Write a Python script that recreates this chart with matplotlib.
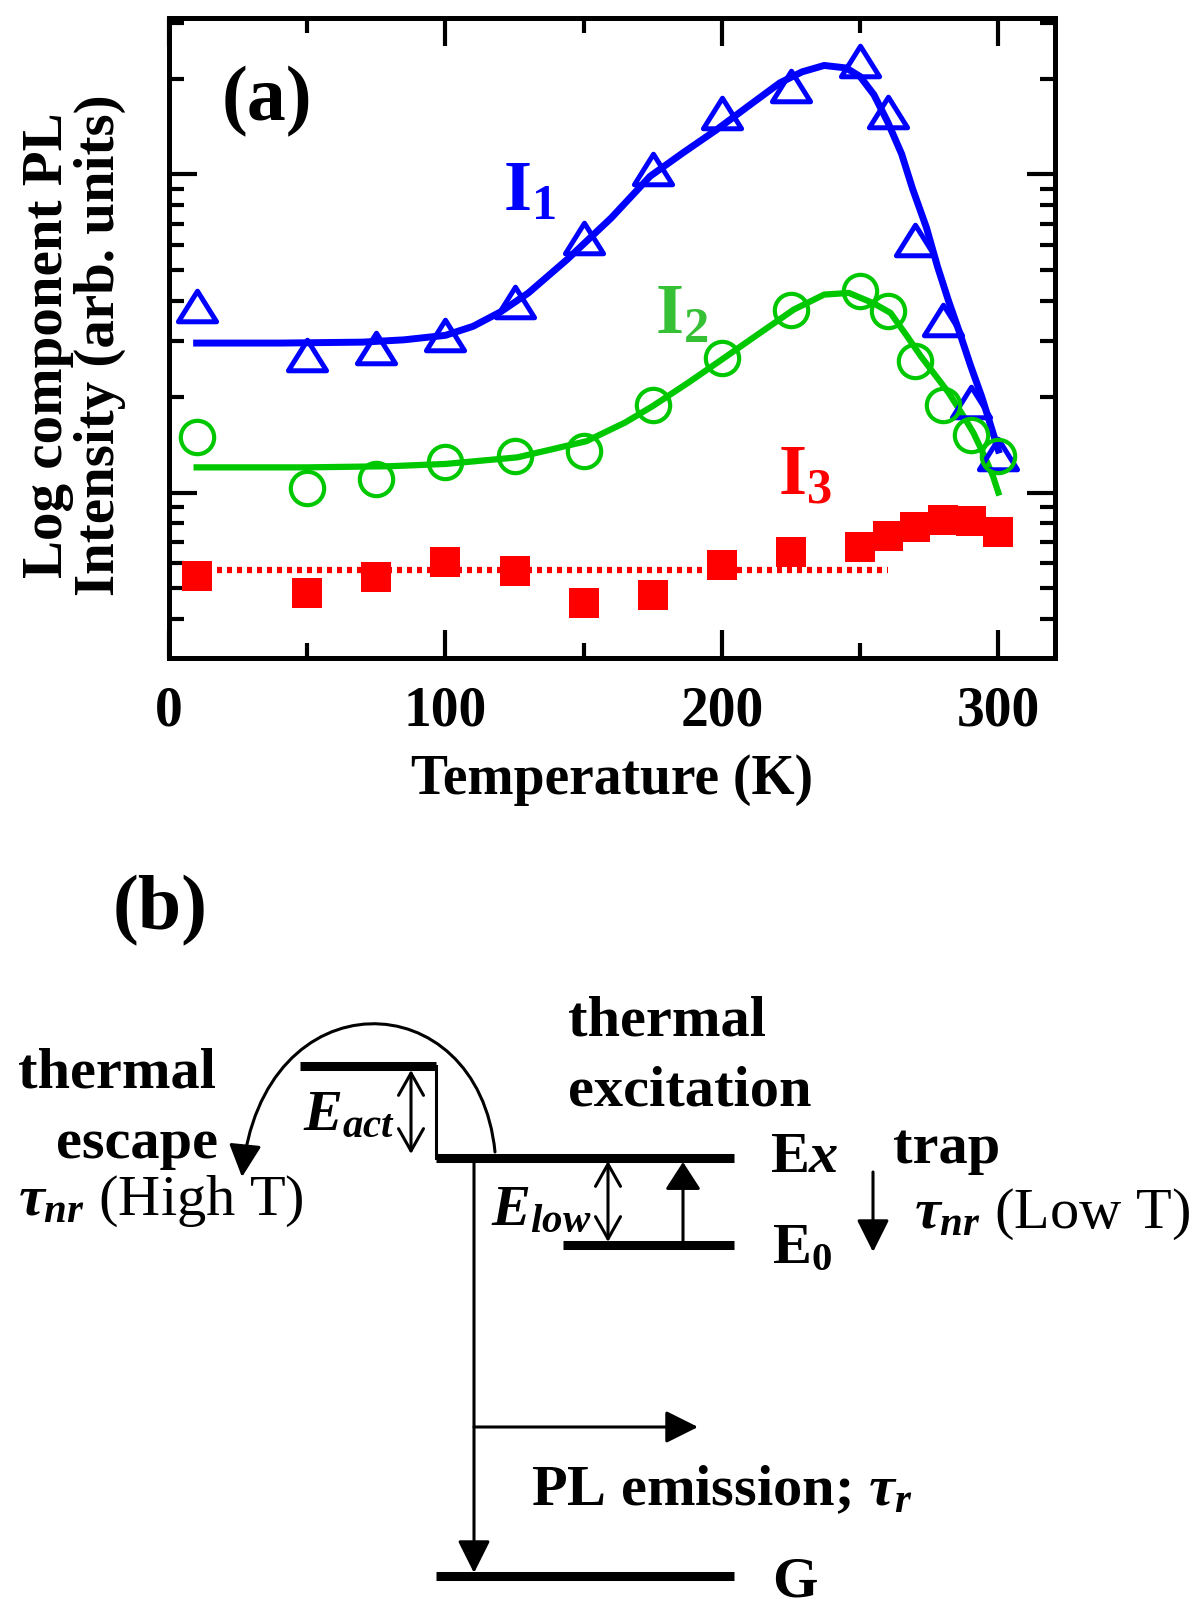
import numpy as np
import matplotlib
matplotlib.use('Agg')
import matplotlib.pyplot as plt
from matplotlib.patches import FancyArrowPatch
from matplotlib.path import Path
from matplotlib.ticker import LogLocator, NullFormatter, FixedLocator

# ---------------- data (panel a) ----------------
temp_pts = [10, 50, 75, 100, 125, 150, 175, 200, 225, 250, 260, 270, 280, 290, 300]
i1_pts = [3.87, 2.71, 2.85, 3.13, 3.98, 6.31, 10.4, 15.6, 18.9, 22.8, 15.7, 6.21, 3.48, 1.93, 1.32]
i2_pts = [1.50, 1.03, 1.10, 1.25, 1.30, 1.35, 1.88, 2.65, 3.76, 4.29, 3.71, 2.59, 1.89, 1.52, 1.30]
i3_pts = [0.548, 0.485, 0.543, 0.603, 0.565, 0.451, 0.478, 0.590, 0.650, 0.675, 0.732, 0.782, 0.818, 0.812, 0.754]

i1_fit_t = [10, 40, 70, 85, 100, 110, 120, 130, 144, 160, 174, 186, 198, 210, 221, 229, 237, 245,
            250, 255, 260, 265, 269, 274, 278, 282, 286, 290, 294, 297, 300]
i1_fit = [2.95, 2.95, 2.97, 3.02, 3.12, 3.33, 3.70, 4.24, 5.40, 7.3, 9.86, 11.7, 13.8, 16.5, 19.4, 21.0,
          22.0, 21.6, 20.3, 17.8, 14.6, 11.6, 9.0, 6.8, 5.13, 4.0, 3.18, 2.5, 2.00, 1.65, 1.36]

i2_fit_t = [10, 50, 80, 100, 126, 151, 165, 175, 188, 200, 213, 226, 237, 246, 255, 261, 267, 272,
            277, 282, 287, 291, 295, 298, 300]
i2_fit = [1.20, 1.20, 1.21, 1.23, 1.29, 1.45, 1.66, 1.87, 2.22, 2.62, 3.14, 3.76, 4.19, 4.24, 3.93,
          3.67, 3.1, 2.68, 2.35, 2.06, 1.76, 1.54, 1.30, 1.13, 1.0]

i3_fit_t = [10, 260]
i3_fit = [0.569, 0.569]

x_ticks = [0, 100, 200, 300]
x_minor = [50, 150, 250]

BLUE = '#0000FF'
GREEN = '#00C800'
GREEN_TXT = '#35C035'
RED = '#FF0000'

plt.rcParams['font.family'] = ['Liberation Serif', 'DejaVu Serif']
plt.rcParams['font.weight'] = 'bold'
plt.rcParams['mathtext.fontset'] = 'custom'
plt.rcParams['mathtext.rm'] = 'Liberation Serif:bold'
plt.rcParams['mathtext.it'] = 'Liberation Serif:italic:bold'
plt.rcParams['mathtext.bf'] = 'Liberation Serif:bold'

W, H = 1200, 1610
fig = plt.figure(figsize=(12, 16.1), dpi=100)


def fx(x):
    return x / W


def fy(y):
    return 1 - y / H


# ---------------- panel (b) drawing axes (pixel coordinates) ----------------
ax2 = fig.add_axes([0, 0, 1, 1])
ax2.set_xlim(0, W)
ax2.set_ylim(H, 0)
ax2.axis('off')

# ---------------- panel (a) ----------------
ax = fig.add_axes([fx(169), fy(658), (1055 - 169) / W, (658 - 18.5) / H])
ax.set_yscale('log')
ax.set_xlim(0, 320.5)
ax.set_ylim(0.302, 30.9)

ax.plot(i1_fit_t, i1_fit, color=BLUE, lw=5, zorder=2)
ax.plot(i2_fit_t, i2_fit, color=GREEN, lw=4.5, zorder=2)
ax.plot(i3_fit_t, i3_fit, color=RED, lw=4.5, ls=(0, (0.8, 0.8)), zorder=2)

tri = Path([(0, 0.8), (-1, -0.8), (1, -0.8), (0, 0.8)],
           [Path.MOVETO, Path.LINETO, Path.LINETO, Path.CLOSEPOLY])
ax.plot(temp_pts, i1_pts, ls='none', marker=tri, ms=27.5, mfc='none', mec=BLUE, mew=3.6, zorder=3)
ax.plot(temp_pts, i2_pts, ls='none', marker='o', ms=24, mfc='none', mec=GREEN, mew=3, zorder=3)
ax.plot(temp_pts, i3_pts, ls='none', marker='s', ms=21, mfc=RED, mec=RED, mew=0, zorder=3)

ax.set_xticks(x_ticks)
ax.set_xticks(x_minor, minor=True)
ax.set_xticklabels([str(v) for v in x_ticks])
ax.yaxis.set_major_locator(FixedLocator([1, 10]))
ax.yaxis.set_minor_locator(LogLocator(base=10, subs=np.arange(2, 10), numticks=20))
ax.yaxis.set_major_formatter(NullFormatter())
ax.yaxis.set_minor_formatter(NullFormatter())
ax.tick_params(which='both', direction='in', top=True, right=True, width=3, color='k')
ax.tick_params(which='major', length=20, labelsize=40, pad=20)
ax.tick_params(which='minor', length=11)
for sp in ax.spines.values():
    sp.set_linewidth(3.6)

ax.set_xlabel('Temperature (K)', fontsize=40, fontweight='bold')
ax.xaxis.set_label_coords(0.5, -0.150)

fig.text(fx(74), fy(345), 'Log component PL\nIntensity (arb. units)', rotation=90,
         ha='center', va='center', multialignment='center', fontsize=41, linespacing=1.0)

fig.text(fx(222), fy(120), '(a)', fontsize=56, ha='left', va='baseline')
fig.text(fx(503), fy(210), r'I$_1$', fontsize=52, color=BLUE, ha='left', va='baseline')
fig.text(fx(655), fy(333), r'I$_2$', fontsize=52, color=GREEN_TXT, ha='left', va='baseline')
fig.text(fx(778), fy(495), r'I$_3$', fontsize=52, color=RED, ha='left', va='baseline')

# ---------------- panel (b) ----------------
LVL = 6.5
THIN = 2.2


def level(x0, x1, y):
    ax2.plot([x0, x1], [y, y], color='k', lw=LVL, solid_capstyle='butt')


level(300, 436, 1066)   # barrier level
level(436, 734, 1158)   # Ex
level(563, 734, 1245)   # E0
level(436, 734, 1576)   # G
ax2.plot([436, 436], [1066, 1158], color='k', lw=THIN)


def arrow(p0, p1, style, **kw):
    a = FancyArrowPatch(p0, p1, arrowstyle=style, mutation_scale=20, lw=THIN,
                        color='k', shrinkA=0, shrinkB=0, **kw)
    ax2.add_patch(a)


solid_head = '-|>,head_length=1.0,head_width=0.5'
open_dbl = '<->,head_length=0.8,head_width=0.45'

arrow((411, 1070), (411, 1154), open_dbl)            # E_act
arrow((608, 1161), (608, 1242), open_dbl)            # E_low
arrow((683, 1242), (683, 1162), '-|>,head_length=0.85,head_width=0.55')  # thermal excitation
arrow((873, 1172), (873, 1252), solid_head)          # trap
arrow((474, 1158), (474, 1573), solid_head)          # PL emission vertical
arrow((474, 1427), (698, 1427), solid_head)          # PL emission horizontal

curve = Path([(495, 1152), (478, 980), (262, 975), (242, 1177)],
             [Path.MOVETO, Path.CURVE4, Path.CURVE4, Path.CURVE4])
ax2.add_patch(FancyArrowPatch(path=curve, arrowstyle=solid_head, mutation_scale=20,
                              lw=THIN, color='k', shrinkA=0, shrinkB=0))

FS = 42
fig.text(fx(113), fy(929), '(b)', fontsize=56, ha='left', va='baseline')
fig.text(fx(216), fy(1087), 'thermal', fontsize=FS, ha='right', va='baseline')
fig.text(fx(218), fy(1158), 'escape', fontsize=FS, ha='right', va='baseline')
fig.text(fx(18), fy(1215), r'$\tau_{nr}$ (High T)', fontsize=FS, fontweight='normal',
         ha='left', va='baseline')
fig.text(fx(303), fy(1130), r'$E_{act}$', fontsize=FS, ha='left', va='baseline')
fig.text(fx(491), fy(1225), r'$E_{low}$', fontsize=FS, ha='left', va='baseline')
fig.text(fx(568), fy(1035), 'thermal', fontsize=FS, ha='left', va='baseline')
fig.text(fx(568), fy(1105), 'excitation', fontsize=FS, ha='left', va='baseline')
fig.text(fx(770), fy(1172), r'E$x$', fontsize=FS, ha='left', va='baseline')
fig.text(fx(893), fy(1163), 'trap', fontsize=FS, ha='left', va='baseline')
fig.text(fx(914), fy(1228), r'$\tau_{nr}$ (Low T)', fontsize=FS, fontweight='normal',
         ha='left', va='baseline')
fig.text(fx(772), fy(1263), r'E$_0$', fontsize=FS, ha='left', va='baseline')
fig.text(fx(531), fy(1505), r'PL emission; $\tau_r$', fontsize=FS, ha='left', va='baseline')
fig.text(fx(772), fy(1596), 'G', fontsize=FS, ha='left', va='baseline')

fig.savefig('out.png', dpi=100, facecolor='white')
